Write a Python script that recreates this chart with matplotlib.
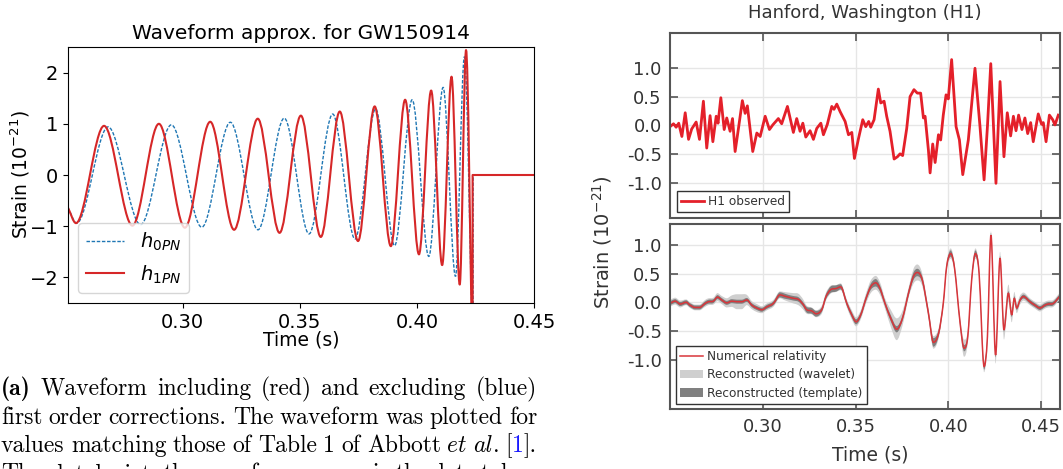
import matplotlib

matplotlib.use("Agg")

import matplotlib.pyplot as plt
import numpy as np
from matplotlib.lines import Line2D
from matplotlib.patches import Patch, PathPatch
from matplotlib.path import Path

W, H = 1063, 469

h1pn_t = [0.2511, 0.2545, 0.2665, 0.2786, 0.2899, 0.3010, 0.3118, 0.3220,
          0.3321, 0.3414, 0.3505, 0.3590, 0.3671, 0.3749, 0.3820, 0.3889,
          0.3950, 0.4009, 0.4061, 0.4108, 0.4148, 0.4183, 0.4210, 0.4236]
h1pn_y = [-0.64, -0.94, 0.96, -0.99, 1.00, -1.03, 1.04, -1.07,
          1.10, -1.13, 1.16, -1.21, 1.24, -1.29, 1.34, -1.39,
          1.47, -1.55, 1.65, -1.76, 1.92, -2.14, 2.44, -3.40]
h1pn_tail_t = [0.4238, 0.4238, 0.4500]
h1pn_tail_y = [-3.40, 0.0, 0.0]

h0pn_t = [0.2511, 0.2548, 0.2682, 0.2821, 0.2952, 0.3082, 0.3204, 0.3322,
          0.3434, 0.3540, 0.3641, 0.3736, 0.3824, 0.3905, 0.3980, 0.4051,
          0.4112, 0.4165, 0.4203, 0.4238]
h0pn_y = [-0.64, -0.94, 0.94, -0.97, 0.98, -1.02, 1.03, -1.07,
          1.11, -1.15, 1.19, -1.25, 1.29, -1.38, 1.47, -1.59,
          1.71, -1.98, 2.31, -3.40]
h0pn_tail_t = [0.4240, 0.4240, 0.4500]
h0pn_tail_y = [-3.40, 0.0, 0.0]

left_xticks = [0.30, 0.35, 0.40, 0.45]
left_yticks = [-2, -1, 0, 1, 2]

# ---- right panels: LIGO H1 strain ----
obs_t = [0.2504, 0.2519, 0.2533, 0.2547, 0.2564, 0.2582, 0.2600, 0.2617, 0.2641, 0.2659,
         0.2680, 0.2698, 0.2716, 0.2731, 0.2749, 0.2759, 0.2774, 0.2792, 0.2806, 0.2824,
         0.2837, 0.2851, 0.2869, 0.2890, 0.2905, 0.2917, 0.2946, 0.2968, 0.2986, 0.3013,
         0.3036, 0.3054, 0.3084, 0.3102, 0.3133, 0.3165, 0.3183, 0.3201, 0.3216, 0.3232,
         0.3255, 0.3273, 0.3291, 0.3313, 0.3327, 0.3348, 0.3372, 0.3384, 0.3399, 0.3417,
         0.3444, 0.3462, 0.3480, 0.3494, 0.3515, 0.3539, 0.3555, 0.3571, 0.3582, 0.3600,
         0.3623, 0.3636, 0.3654, 0.3668, 0.3686, 0.3708, 0.3726, 0.3740, 0.3754, 0.3776,
         0.3794, 0.3815, 0.3833, 0.3851, 0.3866, 0.3875, 0.3893, 0.3902, 0.3916, 0.3929,
         0.3947, 0.3959, 0.3973, 0.3988, 0.4000, 0.4018, 0.4042, 0.4060, 0.4078, 0.4108,
         0.4144, 0.4171, 0.4193, 0.4211, 0.4229, 0.4257, 0.4279, 0.4300, 0.4318, 0.4336,
         0.4351, 0.4365, 0.4379, 0.4397, 0.4413, 0.4428, 0.4444, 0.4458, 0.4473, 0.4485,
         0.4503, 0.4512, 0.4527, 0.4545, 0.4563, 0.4575, 0.4593]
obs_y = [-0.01, 0.03, -0.03, 0.04, -0.19, 0.22, -0.24, -0.06, 0.06, -0.24,
         0.42, -0.39, 0.17, -0.28, 0.16, 0.04, 0.48, -0.07, 0.13, -0.10,
         0.12, -0.45, -0.05, 0.43, 0.21, 0.34, -0.45, -0.13, -0.19, 0.16,
         -0.07, 0.01, 0.12, 0.03, 0.33, -0.12, 0.12, -0.10, 0.04, -0.20,
         -0.09, -0.24, -0.05, 0.04, -0.16, 0.02, 0.33, 0.28, 0.37, 0.24,
         0.07, -0.16, -0.12, -0.57, -0.24, 0.10, -0.02, 0.07, -0.03, 0.10,
         0.63, 0.39, 0.42, 0.16, -0.10, -0.58, -0.54, -0.49, -0.52, -0.05,
         0.50, 0.62, 0.56, 0.56, 0.13, 0.16, -0.43, -0.82, -0.32, -0.64,
         -0.16, -0.25, 0.18, 0.53, 0.46, 1.14, -0.02, -0.25, -0.85, -0.25,
         0.99, -0.02, -0.94, -0.02, 1.07, -1.00, 0.76, -0.54, 0.22, -0.18,
         0.16, -0.09, 0.18, -0.07, 0.13, -0.14, 0.05, -0.28, -0.01, 0.20,
         0.02, 0.05, -0.28, 0.18, 0.10, 0.01, 0.18]

nr_t = [0.2504, 0.2528, 0.2555, 0.2587, 0.2608, 0.2635, 0.2659, 0.2689, 0.2707, 0.2734,
        0.2756, 0.2779, 0.2806, 0.2833, 0.2860, 0.2887, 0.2914, 0.2941, 0.2968, 0.2995,
        0.3022, 0.3057, 0.3093, 0.3115, 0.3138, 0.3165, 0.3192, 0.3216, 0.3237, 0.3264,
        0.3287, 0.3318, 0.3341, 0.3366, 0.3395, 0.3420, 0.3453, 0.3480, 0.3503, 0.3528,
        0.3557, 0.3582, 0.3609, 0.3632, 0.3659, 0.3690, 0.3722, 0.3753, 0.3788, 0.3812,
        0.3833, 0.3860, 0.3893, 0.3920, 0.3948, 0.3973, 0.3991, 0.4013, 0.4034, 0.4063,
        0.4085, 0.4105, 0.4126, 0.4146, 0.4166, 0.4193, 0.4211, 0.4230, 0.4255, 0.4279,
        0.4300, 0.4324, 0.4342, 0.4356, 0.4369, 0.4387, 0.4405, 0.4440, 0.4467, 0.4494,
        0.4521, 0.4539, 0.4566, 0.4602]
nr_y = [-0.01, 0.02, -0.03, 0.00, -0.05, -0.09, -0.09, -0.02, 0.01, 0.02,
        0.09, 0.04, -0.01, 0.02, 0.01, 0.01, 0.04, -0.05, -0.10, -0.13,
        -0.08, -0.02, 0.13, 0.11, 0.09, 0.07, 0.05, -0.03, -0.13, -0.15,
        -0.20, -0.13, 0.10, 0.22, 0.24, 0.27, -0.02, -0.22, -0.34, -0.22,
        0.07, 0.27, 0.34, 0.24, -0.02, -0.28, -0.47, -0.28, 0.19, 0.45,
        0.52, 0.39, -0.19, -0.70, -0.54, -0.02, 0.62, 0.85, 0.59, -0.34,
        -0.80, -0.60, 0.39, 0.85, 0.51, -1.12, -0.60, 1.17, -0.92, 0.77,
        -0.48, 0.16, -0.22, 0.07, -0.10, 0.04, 0.10, 0.01, -0.05, -0.10,
        -0.05, -0.03, -0.02, 0.11]
# half-widths of the two reconstruction bands around the NR curve
wavelet_hw = [0.06, 0.06, 0.06, 0.05, 0.05, 0.05, 0.05, 0.06, 0.06, 0.06,
              0.07, 0.07, 0.08, 0.10, 0.13, 0.13, 0.09, 0.07, 0.07, 0.06,
              0.06, 0.06, 0.06, 0.07, 0.08, 0.09, 0.10, 0.09, 0.07, 0.06,
              0.06, 0.07, 0.07, 0.07, 0.06, 0.06, 0.07, 0.08, 0.08, 0.08,
              0.09, 0.11, 0.12, 0.11, 0.09, 0.15, 0.19, 0.13, 0.09, 0.13,
              0.14, 0.11, 0.09, 0.11, 0.09, 0.07, 0.08, 0.09, 0.08, 0.09,
              0.15, 0.11, 0.08, 0.09, 0.08, 0.10, 0.08, 0.07, 0.15, 0.11,
              0.17, 0.15, 0.13, 0.11, 0.09, 0.08, 0.07, 0.06, 0.06, 0.06,
              0.06, 0.06, 0.06, 0.06]
template_hw = [0.035, 0.035, 0.035, 0.035, 0.035, 0.035, 0.035, 0.035, 0.035, 0.035,
               0.035, 0.035, 0.035, 0.035, 0.035, 0.035, 0.035, 0.035, 0.035, 0.035,
               0.035, 0.035, 0.045, 0.045, 0.04, 0.04, 0.04, 0.04, 0.05, 0.05,
               0.05, 0.04, 0.045, 0.055, 0.055, 0.045, 0.04, 0.045, 0.045, 0.045,
               0.045, 0.055, 0.065, 0.055, 0.045, 0.055, 0.055, 0.045, 0.055, 0.065,
               0.065, 0.055, 0.055, 0.075, 0.055, 0.045, 0.045, 0.055, 0.045, 0.045,
               0.055, 0.045, 0.045, 0.055, 0.045, 0.055, 0.045, 0.04, 0.04, 0.035,
               0.035, 0.035, 0.035, 0.035, 0.035, 0.035, 0.035, 0.035, 0.035, 0.035,
               0.035, 0.035, 0.035, 0.035]

right_xticks = [0.30, 0.35, 0.40, 0.45]
right_xlabels = ["0.30", "0.35", "0.40", "0.45"]
right_yticks = [-1.0, -0.5, 0.0, 0.5, 1.0]
right_ylabels = ["-1.0", "-0.5", "0.0", "0.5", "1.0"]

caption_lines = [
    [[("(a)", "cmb10", "k")], "Waveform", "including", "(red)", "and", "excluding", "(blue)"],
    ["first", "order", "corrections.", "The", "waveform", "was", "plotted", "for"],
    ["values", "matching", "those", "of", "Table", "1", "of", "Abbott",
     [("et", "cmmi10", "k")], [("al", "cmmi10", "k"), (".", "cmr10", "k")],
     [("[", "cmr10", "k"), ("1", "cmr10", "#1a1aff"), ("].", "cmr10", "k")]],
    ["The", "plot", "depicts", "the", "waveform", "as", "seen", "in", "the", "data", "taken"],
]


def hermite_vertices(x, y):
    """Cubic Bezier vertices through the read points, flat at the extrema."""
    x = np.asarray(x, float)
    y = np.asarray(y, float)
    m = np.empty(len(x))
    m[0] = (y[1] - y[0]) / (x[1] - x[0])
    m[-1] = (y[-1] - y[-2]) / (x[-1] - x[-2])
    m[1:-1] = (y[2:] - y[:-2]) / (x[2:] - x[:-2])
    ext = np.zeros(len(x), bool)
    ext[1:-1] = (y[1:-1] - y[:-2]) * (y[2:] - y[1:-1]) <= 0
    m[ext] = 0.0
    verts = [(x[0], y[0])]
    for i in range(len(x) - 1):
        d = (x[i + 1] - x[i]) / 3
        verts += [(x[i] + d, y[i] + m[i] * d),
                  (x[i + 1] - d, y[i + 1] - m[i + 1] * d),
                  (x[i + 1], y[i + 1])]
    return verts


def curve_path(x, y, tail_x=(), tail_y=()):
    verts = hermite_vertices(x, y)
    codes = [Path.MOVETO] + [Path.CURVE4] * (len(verts) - 1)
    verts += list(zip(tail_x, tail_y))
    codes += [Path.LINETO] * len(tail_x)
    return Path(verts, codes)


def band_path(x, centre, hw):
    centre, hw = np.asarray(centre), np.asarray(hw)
    upper = hermite_vertices(x, centre + hw)
    lower = hermite_vertices(x[::-1], (centre - hw)[::-1])
    verts = upper + lower + [upper[0]]
    codes = ([Path.MOVETO] + [Path.CURVE4] * (len(upper) - 1)
             + [Path.LINETO] + [Path.CURVE4] * (len(lower) - 1) + [Path.CLOSEPOLY])
    return Path(verts, codes)


def px_axes(left, top, right, bottom):
    return fig.add_axes([left / W, 1 - bottom / H, (right - left) / W, (bottom - top) / H])


fig = plt.figure(figsize=(W / 100, H / 100), dpi=100)

# ---------------- left chart ----------------
ax = px_axes(68, 47, 534, 303)
blue, red = "#1f77b4", "#d62728"
ax.add_patch(PathPatch(curve_path(h0pn_t, h0pn_y, h0pn_tail_t, h0pn_tail_y),
                       fc="none", ec=blue, lw=1.0, ls=(0, (2.5, 1.2))))
ax.add_patch(PathPatch(curve_path(h1pn_t, h1pn_y, h1pn_tail_t, h1pn_tail_y),
                       fc="none", ec=red, lw=1.5, joinstyle="round"))
ax.set_xlim(0.2511, 0.45)
ax.set_ylim(-2.5, 2.5)
ax.set_xticks(left_xticks)
ax.set_xticklabels([f"{v:.2f}" for v in left_xticks])
ax.set_yticks(left_yticks)
ax.tick_params(labelsize=14)
ax.set_title("Waveform approx. for GW150914", fontsize=14.5)
ax.legend(handles=[Line2D([], [], color=blue, lw=1.0, ls=(0, (2.5, 1.2))),
                   Line2D([], [], color=red, lw=1.5)],
          labels=[r"$h_{0PN}$", r"$h_{1PN}$"], loc="lower left", fontsize=14)
fig.text(301 / W, 1 - 340 / H, "Time (s)", ha="center", va="center", fontsize=13.5)
fig.text(20 / W, 1 - 175 / H, r"Strain ($10^{-21}$)", rotation=90,
         ha="center", va="center", fontsize=13.5)

# ---------------- caption (justified) ----------------
renderer = fig.canvas.get_renderer()
cap_fs = 17
baselines = [395, 423.5, 452, 480.5]
for words, base in zip(caption_lines, baselines):
    placed = []
    for word in words:
        pieces = word if isinstance(word, list) else [(word, "cmr10", "k")]
        items = []
        for text, fam, col in pieces:
            t = fig.text(0, 1 - base / H, text, fontfamily=fam, fontsize=cap_fs,
                         color=col, ha="left", va="baseline")
            items.append((t, t.get_window_extent(renderer).width))
        placed.append(items)
    total = sum(w for items in placed for _, w in items)
    gap = (537 - 1 - total) / (len(placed) - 1)
    x = 1.0
    for items in placed:
        for t, w in items:
            t.set_x(x / W)
            x += w
        x += gap

# ---------------- right figure ----------------
grey_txt, grey_sp = "#333333", "#555555"


def style_right(a, ylim):
    a.set_xlim(0.25, 0.46)
    a.set_ylim(*ylim)
    a.set_xticks(right_xticks)
    a.set_yticks(right_yticks)
    a.set_yticklabels(right_ylabels)
    a.grid(True, color="#e6e6e6", lw=1)
    a.set_axisbelow(True)
    a.tick_params(direction="in", length=6, width=1.2, color=grey_sp, top=True,
                  right=True, labelsize=13, labelcolor=grey_txt, pad=6)
    for s in a.spines.values():
        s.set_color(grey_sp)
        s.set_linewidth(1.5)


leg_kw = dict(loc="lower left", borderaxespad=0, fontsize=8.7, fancybox=False,
              edgecolor=grey_txt, framealpha=1, borderpad=0.35, labelspacing=0.45,
              handletextpad=0.35, handlelength=1.9)

ax1 = px_axes(670, 33, 1059.6, 218)
style_right(ax1, (-1.6, 1.6))
ax1.tick_params(labelbottom=False)
ax1.plot(obs_t, obs_y, color="#e4202a", lw=2, solid_joinstyle="round")
lg1 = ax1.legend(handles=[Line2D([], [], color="#e4202a", lw=2)], labels=["H1 observed"],
                 bbox_to_anchor=(0.017, 0.032), **leg_kw)
for txt in lg1.get_texts():
    txt.set_color(grey_txt)

ax2 = px_axes(670, 224, 1059.6, 409.3)
style_right(ax2, (-1.867, 1.366))
ax2.set_xticklabels(right_xlabels)
nr_t_arr = np.asarray(nr_t)
wav_c, tpl_c, nr_c = "#cfcfcf", "#808080", "#d8353a"
ax2.add_patch(PathPatch(band_path(nr_t_arr, nr_y, wavelet_hw), fc=wav_c, ec="none"))
ax2.add_patch(PathPatch(band_path(nr_t_arr, nr_y, template_hw), fc=tpl_c, ec="none"))
ax2.add_patch(PathPatch(curve_path(nr_t, nr_y), fc="none", ec=nr_c, lw=1.1))
lg2 = ax2.legend(handles=[Line2D([], [], color=nr_c, lw=1.1),
                          Patch(fc=wav_c, ec="none"), Patch(fc=tpl_c, ec="none")],
                 labels=["Numerical relativity", "Reconstructed (wavelet)",
                         "Reconstructed (template)"],
                 bbox_to_anchor=(0.0154, 0.0286), **leg_kw)
for txt in lg2.get_texts():
    txt.set_color(grey_txt)

fig.text(865 / W, 1 - 13 / H, "Hanford, Washington (H1)", ha="center", va="center",
         fontsize=13, color=grey_txt)
fig.text(870 / W, 1 - 455 / H, "Time (s)", ha="center", va="center",
         fontsize=13.5, color=grey_txt)
fig.text(602 / W, 1 - 242 / H, r"Strain ($10^{-21}$)", rotation=90, ha="center",
         va="center", fontsize=14, color=grey_txt)

fig.savefig("out.png", dpi=100)
